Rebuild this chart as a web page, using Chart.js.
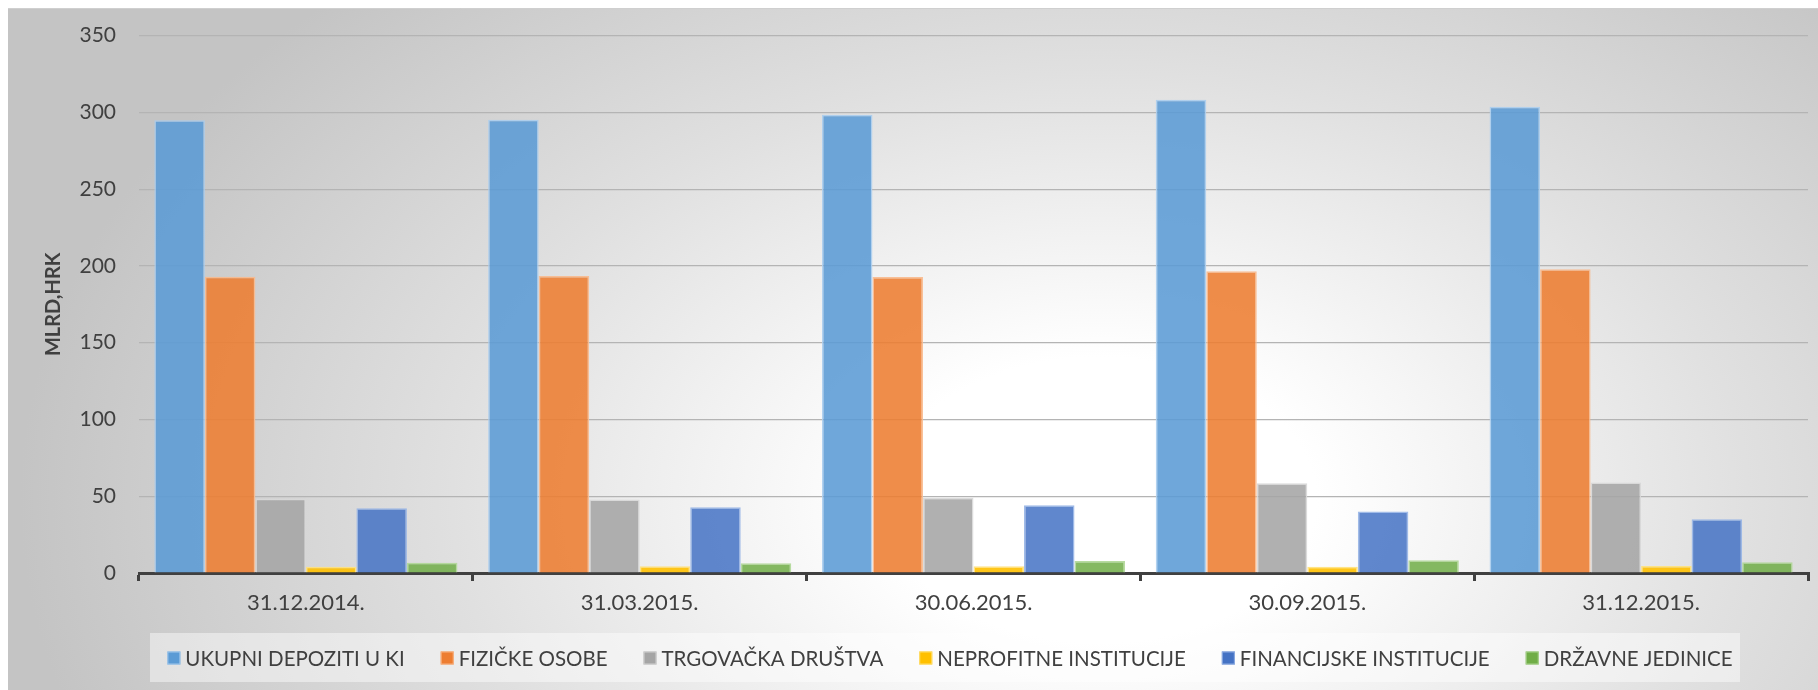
<!DOCTYPE html>
<html>
<head>
<meta charset="utf-8">
<script src="https://cdn.jsdelivr.net/npm/chart.js@4"></script>
<style>
  html, body { margin: 0; padding: 0; background: #ffffff; }
  #wrap { width: 1818px; height: 690px; position: relative; }
  canvas { display: block; }
</style>
</head>
<body>
<div id="wrap"><canvas id="c" width="1818" height="690"></canvas></div>
<script>
const categories = ['31.12.2014.', '31.03.2015.', '30.06.2015.', '30.09.2015.', '31.12.2015.'];
const seriesNames = ['UKUPNI DEPOZITI U KI', 'FIZIČKE OSOBE', 'TRGOVAČKA DRUŠTVA', 'NEPROFITNE INSTITUCIJE', 'FINANCIJSKE INSTITUCIJE', 'DRŽAVNE JEDINICE'];
const ukupni      = [294.8, 295.2, 298.5, 308.3, 303.7];
const fizicke     = [193.0, 193.4, 192.8, 196.5, 197.8];
const trgovacka   = [48.3, 47.8, 49.0, 58.5, 59.0];
const neprofitne  = [4.1, 4.4, 4.4, 4.1, 4.6];
const financijske = [42.2, 42.9, 44.2, 40.0, 35.0];
const drzavne     = [6.7, 6.3, 7.8, 8.3, 7.0];
const yTicks = [0, 50, 100, 150, 200, 250, 300, 350];
const yTitle = 'MLRD,HRK';

const fills   = ['rgba(91,155,213,0.88)', 'rgba(237,125,49,0.88)', 'rgba(165,165,165,0.88)', 'rgba(255,192,0,0.9)', 'rgba(68,114,196,0.85)', 'rgba(112,173,71,0.85)'];
const borders = ['rgba(170,205,238,0.9)', 'rgba(250,185,140,0.9)', 'rgba(215,215,215,0.9)', 'rgba(255,225,120,0.9)', 'rgba(150,180,230,0.9)', 'rgba(175,215,150,0.9)'];
const legendFills = ['#5B9BD5', '#ED7D31', '#A5A5A5', '#FFC000', '#4472C4', '#70AD47'];

const allSeries = [ukupni, fizicke, trgovacka, neprofitne, financijske, drzavne];

const bgPlugin = {
  id: 'bg',
  beforeDraw(chart) {
    const ctx = chart.ctx;
    ctx.save();
    ctx.fillStyle = '#ffffff';
    ctx.fillRect(0, 0, chart.width, chart.height);
    ctx.beginPath();
    ctx.rect(8, 8, chart.width - 8, chart.height - 8);
    ctx.clip();
    ctx.translate(1100, 500);
    ctx.scale(1, 0.66);
    const g = ctx.createRadialGradient(0, 0, 0, 0, 0, 1080);
    g.addColorStop(0, '#ffffff');
    g.addColorStop(0.2, '#ffffff');
    g.addColorStop(0.6, '#e0e0e0');
    g.addColorStop(1, '#c4c4c4');
    ctx.fillStyle = g;
    ctx.fillRect(-1200, -900, 2400, 1800);
    ctx.restore();
    ctx.save();
    ctx.strokeStyle = '#cfcfcf';
    ctx.lineWidth = 1;
    ctx.beginPath();
    ctx.moveTo(8, 8.5); ctx.lineTo(chart.width, 8.5);
    ctx.stroke();
    ctx.restore();
  },
  afterDraw(chart) {
    // legend: box and items
    const ctx = chart.ctx;
    ctx.save();
    ctx.fillStyle = 'rgba(255,255,255,0.45)';
    ctx.fillRect(150, 633, 1590, 49);
    ctx.font = '20.5px Lato';
    ctx.textBaseline = 'middle';
    ctx.textAlign = 'left';
    const box = 13, gapIn = 5, gapOut = 36, cy = 658;
    const widths = seriesNames.map(n => ctx.measureText(n).width);
    const total = widths.reduce((a, w) => a + box + gapIn + w, 0) + gapOut * (seriesNames.length - 1);
    let x = 950 - total / 2;
    seriesNames.forEach((n, i) => {
      ctx.fillStyle = legendFills[i];
      ctx.fillRect(x, cy - box / 2, box, box);
      ctx.strokeStyle = borders[i];
      ctx.lineWidth = 1;
      ctx.strokeRect(x + 0.5, cy - box / 2 + 0.5, box - 1, box - 1);
      ctx.fillStyle = '#404040';
      ctx.fillText(n, x + box + gapIn, cy + 1);
      x += box + gapIn + widths[i] + gapOut;
    });
    ctx.restore();
  }
};

new Chart(document.getElementById('c'), {
  type: 'bar',
  data: {
    labels: categories,
    datasets: allSeries.map((d, i) => ({
      label: seriesNames[i],
      data: d,
      backgroundColor: fills[i],
      borderColor: borders[i],
      borderWidth: 1.5,
      categoryPercentage: 0.908,
      barPercentage: 1.0
    }))
  },
  options: {
    responsive: false,
    animation: false,
    layout: { padding: { left: 40, right: 10, top: 30, bottom: 57 } },
    plugins: {
      tooltip: { enabled: false },
      legend: { display: false }
    },
    scales: {
      x: {
        afterFit(scale) { scale.height = 60; },
        grid: { display: true, drawOnChartArea: false, drawTicks: true, tickLength: 8, color: '#404040', lineWidth: 3, offset: true },
        border: { display: true, color: '#404040', width: 3 },
        ticks: { font: { family: 'Lato', size: 22 }, color: '#404040', padding: 9 }
      },
      y: {
        min: 0, max: 350,
        afterBuildTicks(scale) { scale.ticks = yTicks.map(v => ({ value: v })); },
        afterFit(scale) { scale.width = 99; },
        grid: { color: '#b4b4b4', lineWidth: 1.2, drawTicks: false },
        border: { display: false },
        ticks: { font: { family: 'Lato', size: 21 }, color: '#404040', padding: 23 },
        title: { display: true, text: yTitle, font: { family: 'Lato', size: 20, weight: 'bold' }, color: '#404040', padding: { top: 2, bottom: 0 } }
      }
    }
  },
  plugins: [bgPlugin]
});
</script>
</body>
</html>
